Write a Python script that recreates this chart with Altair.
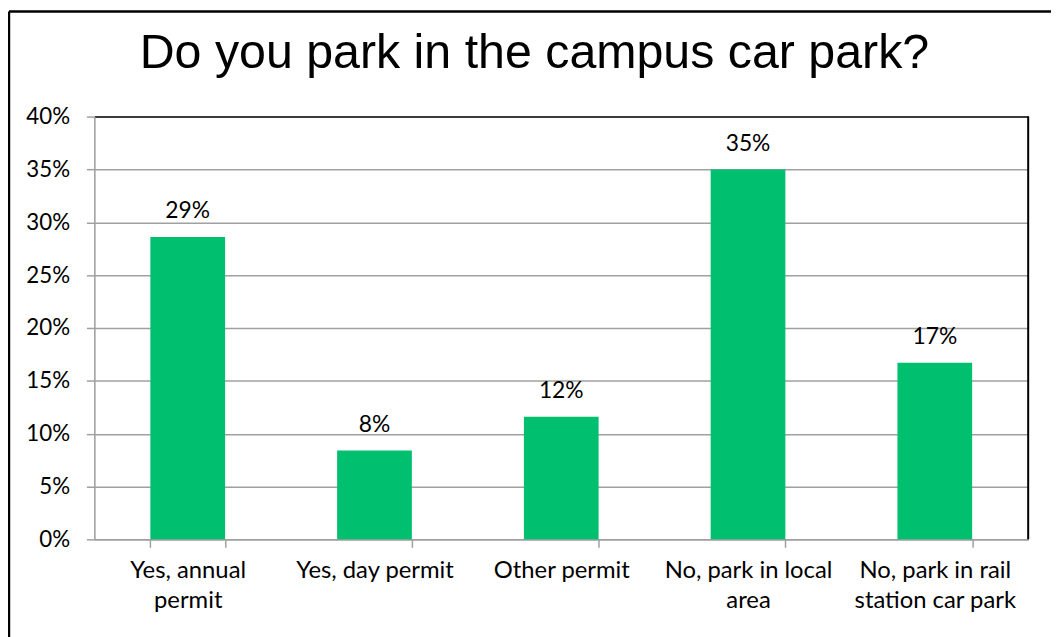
import altair as alt
import pandas as pd

categories = ["Yes, annual\npermit", "Yes, day permit", "Other permit",
              "No, park in local\narea", "No, park in rail\nstation car park"]
shares = [0.286, 0.084, 0.116, 0.350, 0.167]
tick_values = [0, 0.05, 0.10, 0.15, 0.20, 0.25, 0.30, 0.35, 0.40]
title_text = "Do you park in the campus car park?"

W, H = 941, 426
PAD_L, PAD_T, PAD_R, PAD_B = 87, 107, 23, 96

df = pd.DataFrame({"category": categories, "share": shares})

GRAY = "#a0a0a0"
LABEL_FONT = "Lato"

x_enc = alt.X("category:N", sort=categories, title=None,
              scale=alt.Scale(paddingInner=0.6, paddingOuter=0.3),
              axis=alt.Axis(labelAngle=0, tickBand="extent", tickSize=8,
                            tickColor=GRAY, domainColor=GRAY, domainWidth=1.5,
                            tickWidth=1.5,
                            labelFont=LABEL_FONT, labelFontSize=24,
                            labelColor="black", labelLineHeight=31,
                            labelPadding=11, labelLimit=0,
                            labelExpr="split(datum.label, '\\n')"))
y_enc = alt.Y("share:Q", title=None,
              scale=alt.Scale(domain=[0, 0.4], nice=False),
              axis=alt.Axis(values=tick_values, format=".0%", tickSize=8,
                            tickColor=GRAY, domainColor=GRAY, domainWidth=1.5,
                            tickWidth=1.5,
                            gridColor=alt.condition("datum.value >= 0.4",
                                                    alt.value("black"),
                                                    alt.value(GRAY)),
                            gridWidth=1.5,
                            labelFont=LABEL_FONT, labelFontSize=22.5,
                            labelColor="black", labelPadding=17))

bars = alt.Chart(df).mark_bar(color="#00BF6F").encode(x=x_enc, y=y_enc)

labels = alt.Chart(df).mark_text(font=LABEL_FONT, fontSize=23, color="black",
                                 baseline="alphabetic", dy=-19).encode(
    x=alt.X("category:N", sort=categories),
    y="share:Q",
    text=alt.Text("share:Q", format=".0%"))

frame_data = alt.Data(values=[{}])
right_border = alt.Chart(frame_data).mark_rule(color="black", strokeWidth=2).encode(
    x=alt.value(W), y=alt.value(0), y2=alt.value(H))
outer_left = alt.Chart(frame_data).mark_rule(color="black", strokeWidth=2.5).encode(
    x=alt.value(-PAD_L + 1), y=alt.value(-PAD_T + 1), y2=alt.value(H + PAD_B + 10))
outer_top = alt.Chart(frame_data).mark_rule(color="black", strokeWidth=2.5).encode(
    y=alt.value(-PAD_T + 1), x=alt.value(-PAD_L + 1), x2=alt.value(W + PAD_R + 10))

chart = alt.layer(bars, labels, right_border, outer_left, outer_top).properties(
    width=W, height=H,
    autosize=alt.AutoSizeParams(type="none"),
    padding={"left": PAD_L, "top": PAD_T, "right": PAD_R, "bottom": PAD_B},
    title=alt.TitleParams(title_text, font="Liberation Sans", fontSize=48.7,
                          fontWeight="normal", color="black", anchor="middle",
                          baseline="alphabetic", offset=0, dy=107, dx=-27),
).configure_view(stroke=None).configure(background="white")

chart.save("out.html", embed_options={"renderer": "svg", "actions": False})
